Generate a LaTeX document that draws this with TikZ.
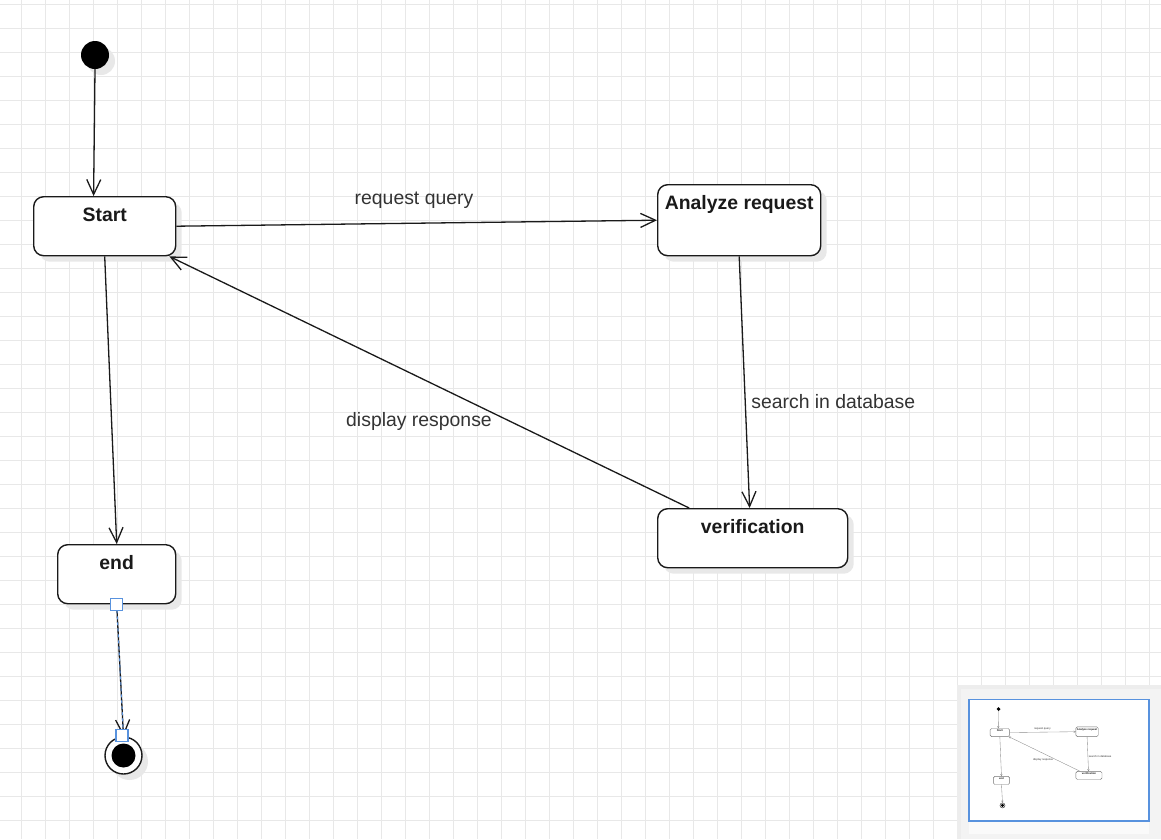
\documentclass[tikz,border=0pt]{standalone}
\usepackage{fontspec}
\setmainfont{Liberation Sans}
\usetikzlibrary{arrows.meta,shadows,calc}

\definecolor{gridgray}{RGB}{232,232,232}
\definecolor{ink}{RGB}{26,26,26}
\definecolor{labelgray}{RGB}{51,51,51}
\definecolor{selblue}{RGB}{88,146,222}
\definecolor{panelgray}{RGB}{243,243,243}

\tikzset{
  gridline/.style={draw=gridgray, line width=0.9pt},
  boxshadow/.style={drop shadow={shadow xshift=6pt, shadow yshift=-6pt, fill=black!9, opacity=1}},
  statebox/.style={draw=ink, fill=white, line width=1.4pt, rounded corners=10pt,
    anchor=north west, inner xsep=0pt, inner ysep=5pt, text height=20pt,
    font=\bfseries\fontsize{19.4}{23}\selectfont, text=ink, boxshadow},
  flow/.style={draw=ink, line width=1.3pt, -{Straight Barb[length=15pt,width=14pt]}},
  edgelabel/.style={font=\fontsize{19.4}{23}\selectfont, text=labelgray, inner sep=0pt, anchor=base},
  initdot/.style={circle, fill=black, minimum size=28pt, inner sep=0pt, boxshadow},
  finalring/.style={circle, draw=ink, fill=white, line width=1.4pt, minimum size=37pt, inner sep=0pt, boxshadow},
  finaldot/.style={circle, fill=black, minimum size=24pt, inner sep=0pt},
  handle/.style={draw=selblue, fill=white, line width=1.2pt, minimum size=12pt, inner sep=0pt},
}

% The state chart itself, drawn once full size and once in the outline panel
\newcommand\statechart{%
  \node[initdot] (init) at (95,55) {};
  \node[statebox, minimum width=142pt, text depth=29pt] (start) at (33,196) {Start};
  \node[statebox, minimum width=163pt, text depth=41pt] (analyze) at (657,184) {Analyze request};
  \node[statebox, minimum width=190pt, text depth=29pt] (verif) at (657,508) {verification};
  \node[statebox, minimum width=118pt, text depth=29pt] (endstate) at (57,544) {end};
  \node[finalring] (final) at (123.5,755.5) {};
  \node[finaldot] (finalcore) at (final.center) {};
  % transitions
  \draw[flow] (init.south) -- ($(start.north west)!0.4225!(start.north east)$);
  \draw[flow] (start.east) -- (analyze.west);
  \draw[flow] (analyze.south) -- ($(verif.north west)!0.484!(verif.north east)$);
  \draw[flow] ($(verif.north west)!0.168!(verif.north east)$) -- ($(start.south west)!0.951!(start.south east)$);
  \draw[flow] (start.south) -- (endstate.north);
  \draw[flow] (endstate.south) -- (final.north);
  % transition labels
  \node[edgelabel] (lblquery) at (414,204) {request query};
  \node[edgelabel] (lblsearch) at (833.3,408.3) {search in database};
  \node[edgelabel] (lbldisplay) at (419,426) {display response};
}

\begin{document}
\begin{tikzpicture}[x=1pt,y=-1pt]
  % canvas
  \fill[white] (0,0) rectangle (1161,839);
  \useasboundingbox (0,0) rectangle (1161,839);

  % background grid
  \foreach \i in {0,...,47} \draw[gridline] ({21.3+24*\i},0) -- ({21.3+24*\i},839);
  \foreach \j in {0,...,34} \draw[gridline] (0,{4.6+24*\j}) -- (1161,{4.6+24*\j});

  % main chart
  \statechart

  % selected transition: blue dashed overlay and handles
  \draw[selblue, line width=1pt, dash pattern=on 3pt off 3pt] (endstate.south) -- (final.north);
  \node[handle] (hdlsrc) at (endstate.south) {};
  \node[handle] (hdldst) at (122,735.7) {};

  % outline panel
  \fill[black!7] (957,685) rectangle (1161,839);
  \fill[panelgray] (961,689) rectangle (1161,839);
  \fill[white!98!black] (969,699) rectangle (1149,834);
  \fill[white] (969,699) rectangle (1149,821);
  \begin{scope}[shift={(985.5,701.5)}, scale=0.1375, transform shape, name prefix=mm-]
    \tikzset{
      boxshadow/.style={},
      statebox/.append style={rounded corners=1.5pt, line width=0.4pt, draw=black!55},
      finalring/.append style={line width=0.4pt},
      flow/.style={draw=black!45, line width=0.35pt, -{Straight Barb[length=1.8pt,width=1.8pt]}},
    }
    \statechart
  \end{scope}
  \draw[selblue, line width=1.6pt] (969,699.5) rectangle (1149,821);
\end{tikzpicture}
\end{document}
